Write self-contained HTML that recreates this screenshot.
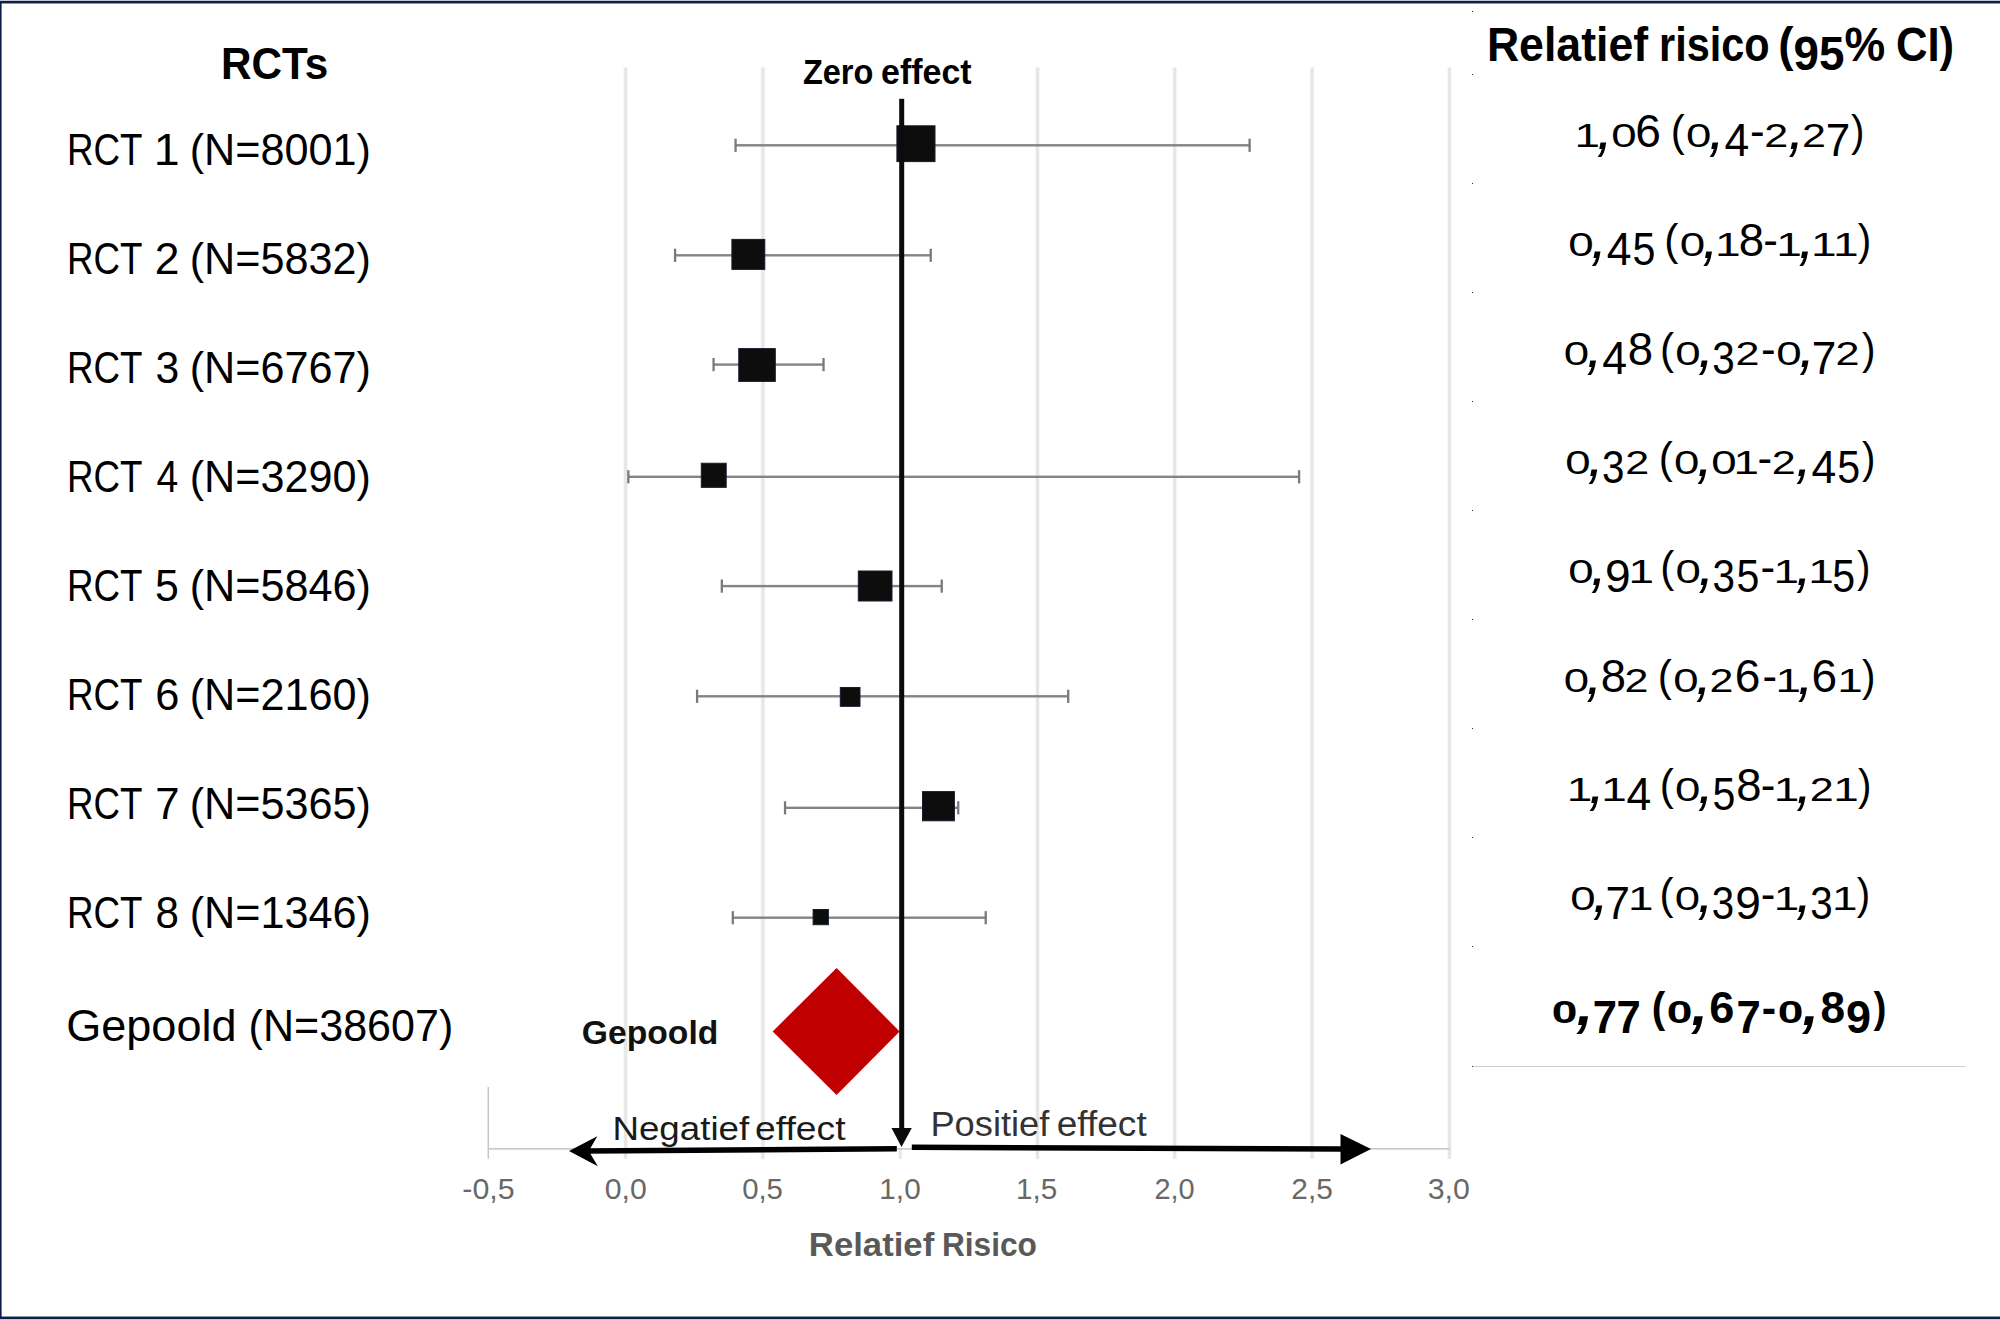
<!DOCTYPE html>
<html lang="nl"><head><meta charset="utf-8"><title>Forest plot</title>
<style>html,body{margin:0;padding:0;background:#fff}body{width:2000px;height:1320px;overflow:hidden;font-family:"Liberation Sans",sans-serif}svg{display:block;position:absolute;left:0;top:0}text{white-space:pre}</style></head>
<body>
<svg role="img" aria-label="Forest plot: relatief risico per RCT en gepoold" width="2000" height="1320" viewBox="0 0 2000 1320">
<g>
<rect x="623.10" y="67.5" width="5" height="1091.3" fill="#f9f9f9"/>
<rect x="624.10" y="67.5" width="3" height="1091.3" fill="#e6e6e6"/>
<rect x="760.40" y="67.5" width="5" height="1091.3" fill="#f9f9f9"/>
<rect x="761.40" y="67.5" width="3" height="1091.3" fill="#e6e6e6"/>
<rect x="898.70" y="1149" width="3" height="9.8" fill="#e6e6e6"/>
<rect x="1035.00" y="67.5" width="5" height="1091.3" fill="#f9f9f9"/>
<rect x="1036.00" y="67.5" width="3" height="1091.3" fill="#e6e6e6"/>
<rect x="1172.30" y="67.5" width="5" height="1091.3" fill="#f9f9f9"/>
<rect x="1173.30" y="67.5" width="3" height="1091.3" fill="#e6e6e6"/>
<rect x="1309.60" y="67.5" width="5" height="1091.3" fill="#f9f9f9"/>
<rect x="1310.60" y="67.5" width="3" height="1091.3" fill="#e6e6e6"/>
<rect x="1446.90" y="67.5" width="5" height="1091.3" fill="#f9f9f9"/>
<rect x="1447.90" y="67.5" width="3" height="1091.3" fill="#e6e6e6"/>
<rect x="487.55" y="1087" width="1.5" height="71.8" fill="#c6c6c6"/>
<rect x="488.30" y="1148.1" width="961.10" height="1.5" fill="#c6c6c6"/>
<rect x="735.56" y="144.10" width="514.06" height="2.4" fill="#848484"/>
<rect x="734.41" y="138.70" width="2.3" height="13.2" fill="#7a7a7a"/>
<rect x="1248.47" y="138.70" width="2.3" height="13.2" fill="#7a7a7a"/>
<rect x="675.08" y="254.10" width="255.66" height="2.4" fill="#848484"/>
<rect x="673.93" y="248.70" width="2.3" height="13.2" fill="#7a7a7a"/>
<rect x="929.59" y="248.70" width="2.3" height="13.2" fill="#7a7a7a"/>
<rect x="713.57" y="363.40" width="109.96" height="2.4" fill="#848484"/>
<rect x="712.42" y="358.00" width="2.3" height="13.2" fill="#7a7a7a"/>
<rect x="822.38" y="358.00" width="2.3" height="13.2" fill="#7a7a7a"/>
<rect x="628.35" y="475.60" width="670.76" height="2.4" fill="#848484"/>
<rect x="627.20" y="470.20" width="2.3" height="13.2" fill="#7a7a7a"/>
<rect x="1297.95" y="470.20" width="2.3" height="13.2" fill="#7a7a7a"/>
<rect x="721.82" y="584.90" width="219.92" height="2.4" fill="#848484"/>
<rect x="720.67" y="579.50" width="2.3" height="13.2" fill="#7a7a7a"/>
<rect x="940.58" y="579.50" width="2.3" height="13.2" fill="#7a7a7a"/>
<rect x="697.07" y="695.10" width="371.12" height="2.4" fill="#848484"/>
<rect x="695.92" y="689.70" width="2.3" height="13.2" fill="#7a7a7a"/>
<rect x="1067.04" y="689.70" width="2.3" height="13.2" fill="#7a7a7a"/>
<rect x="785.04" y="806.60" width="173.19" height="2.4" fill="#848484"/>
<rect x="783.89" y="801.20" width="2.3" height="13.2" fill="#7a7a7a"/>
<rect x="957.08" y="801.20" width="2.3" height="13.2" fill="#7a7a7a"/>
<rect x="732.81" y="916.50" width="252.91" height="2.4" fill="#848484"/>
<rect x="731.66" y="911.10" width="2.3" height="13.2" fill="#7a7a7a"/>
<rect x="984.57" y="911.10" width="2.3" height="13.2" fill="#7a7a7a"/>
<rect x="896.90" y="125.80" width="38.10" height="35.80" fill="#0d0d0d" stroke="#141c30" stroke-width="1"/>
<rect x="731.90" y="239.40" width="32.90" height="30.00" fill="#0d0d0d" stroke="#141c30" stroke-width="1"/>
<rect x="738.75" y="348.60" width="36.55" height="32.80" fill="#0d0d0d" stroke="#141c30" stroke-width="1"/>
<rect x="701.30" y="463.25" width="24.90" height="24.10" fill="#0d0d0d" stroke="#141c30" stroke-width="1"/>
<rect x="858.30" y="571.00" width="33.70" height="30.00" fill="#0d0d0d" stroke="#141c30" stroke-width="1"/>
<rect x="840.30" y="687.50" width="19.70" height="18.85" fill="#0d0d0d" stroke="#141c30" stroke-width="1"/>
<rect x="922.50" y="791.60" width="31.90" height="29.20" fill="#0d0d0d" stroke="#141c30" stroke-width="1"/>
<rect x="813.10" y="909.50" width="15.30" height="15.20" fill="#0d0d0d" stroke="#141c30" stroke-width="1"/>
</g>
<rect x="899.2" y="98.8" width="5.0" height="1032" fill="#0b0b0b"/>
<polygon points="891.5,1128 911.8,1128 901.5,1147" fill="#0b0b0b"/>
<polygon points="772.7,1031.4 836.6,968 899.6,1031.4 836.6,1095" fill="#c00000"/>
<polygon points="588.5,1148.35 896.8,1146.1 896.8,1151.6 588.5,1153.85" fill="#000"/>
<polygon points="569,1151 597.3,1136.2 588.8,1151 597.8,1166.3" fill="#000"/>
<polygon points="911.8,1144.6 1342,1146.2 1342,1151.7 911.8,1150.1" fill="#000"/>
<polygon points="1340.5,1134 1371,1148.9 1340.5,1164.4" fill="#000"/>
<rect x="1472" y="11" width="1" height="1" fill="#303030"/>
<rect x="1472" y="74" width="1" height="1" fill="#303030"/>
<rect x="1472" y="183" width="1" height="1" fill="#303030"/>
<rect x="1472" y="292" width="1" height="1" fill="#303030"/>
<rect x="1472" y="401" width="1" height="1" fill="#303030"/>
<rect x="1472" y="510" width="1" height="1" fill="#303030"/>
<rect x="1472" y="619" width="1" height="1" fill="#303030"/>
<rect x="1472" y="728" width="1" height="1" fill="#303030"/>
<rect x="1472" y="837" width="1" height="1" fill="#303030"/>
<rect x="1472" y="946" width="1" height="1" fill="#303030"/>
<rect x="1472" y="1066" width="1" height="1" fill="#303030"/>
<rect x="1473" y="1066" width="492.5" height="1" fill="#cdcdcd"/>
<rect x="0" y="0" width="2000" height="1" fill="#c2c6d1"/>
<rect x="0" y="1" width="2000" height="2.45" fill="#0c2148"/>
<rect x="0" y="1" width="1.6" height="1318" fill="#0c2148"/>
<rect x="0" y="1316.55" width="2000" height="2.45" fill="#0c2148"/>
<rect x="0" y="1319" width="2000" height="1" fill="#c2c6d1"/>
<text font-family="Liberation Sans, sans-serif" font-size="44.5" font-weight="700" fill="#000" transform="translate(221.03,78.60) scale(0.9499,1)">RCTs</text>
<text font-family="Liberation Sans, sans-serif" font-size="45.0" font-weight="400" fill="#000" transform="translate(66.96,165.00) scale(0.8161,1)">RCT</text>
<text font-family="Liberation Sans, sans-serif" font-size="45.0" font-weight="400" fill="#000" transform="translate(153.69,165.00) scale(1.0340,1)">1</text>
<text font-family="Liberation Sans, sans-serif" font-size="45.0" font-weight="400" fill="#000" transform="translate(189.72,165.00) scale(0.9594,1)">(N=8001)</text>
<text font-family="Liberation Sans, sans-serif" font-size="45.0" font-weight="400" fill="#000" transform="translate(66.96,274.00) scale(0.8161,1)">RCT</text>
<text font-family="Liberation Sans, sans-serif" font-size="45.0" font-weight="400" fill="#000" transform="translate(154.74,274.00) scale(0.9882,1)">2</text>
<text font-family="Liberation Sans, sans-serif" font-size="45.0" font-weight="400" fill="#000" transform="translate(189.72,274.00) scale(0.9594,1)">(N=5832)</text>
<text font-family="Liberation Sans, sans-serif" font-size="45.0" font-weight="400" fill="#000" transform="translate(66.96,383.00) scale(0.8161,1)">RCT</text>
<text font-family="Liberation Sans, sans-serif" font-size="45.0" font-weight="400" fill="#000" transform="translate(155.45,383.00) scale(0.9486,1)">3</text>
<text font-family="Liberation Sans, sans-serif" font-size="45.0" font-weight="400" fill="#000" transform="translate(189.72,383.00) scale(0.9594,1)">(N=6767)</text>
<text font-family="Liberation Sans, sans-serif" font-size="45.0" font-weight="400" fill="#000" transform="translate(66.96,492.00) scale(0.8161,1)">RCT</text>
<text font-family="Liberation Sans, sans-serif" font-size="45.0" font-weight="400" fill="#000" transform="translate(156.40,492.00) scale(0.8671,1)">4</text>
<text font-family="Liberation Sans, sans-serif" font-size="45.0" font-weight="400" fill="#000" transform="translate(189.72,492.00) scale(0.9594,1)">(N=3290)</text>
<text font-family="Liberation Sans, sans-serif" font-size="45.0" font-weight="400" fill="#000" transform="translate(66.96,601.00) scale(0.8161,1)">RCT</text>
<text font-family="Liberation Sans, sans-serif" font-size="45.0" font-weight="400" fill="#000" transform="translate(154.95,601.00) scale(0.9524,1)">5</text>
<text font-family="Liberation Sans, sans-serif" font-size="45.0" font-weight="400" fill="#000" transform="translate(189.72,601.00) scale(0.9594,1)">(N=5846)</text>
<text font-family="Liberation Sans, sans-serif" font-size="45.0" font-weight="400" fill="#000" transform="translate(66.96,710.00) scale(0.8161,1)">RCT</text>
<text font-family="Liberation Sans, sans-serif" font-size="45.0" font-weight="400" fill="#000" transform="translate(155.16,710.00) scale(0.9630,1)">6</text>
<text font-family="Liberation Sans, sans-serif" font-size="45.0" font-weight="400" fill="#000" transform="translate(189.72,710.00) scale(0.9594,1)">(N=2160)</text>
<text font-family="Liberation Sans, sans-serif" font-size="45.0" font-weight="400" fill="#000" transform="translate(66.96,819.00) scale(0.8161,1)">RCT</text>
<text font-family="Liberation Sans, sans-serif" font-size="45.0" font-weight="400" fill="#000" transform="translate(155.18,819.00) scale(0.9715,1)">7</text>
<text font-family="Liberation Sans, sans-serif" font-size="45.0" font-weight="400" fill="#000" transform="translate(189.72,819.00) scale(0.9594,1)">(N=5365)</text>
<text font-family="Liberation Sans, sans-serif" font-size="45.0" font-weight="400" fill="#000" transform="translate(66.96,928.00) scale(0.8161,1)">RCT</text>
<text font-family="Liberation Sans, sans-serif" font-size="45.0" font-weight="400" fill="#000" transform="translate(155.43,928.00) scale(0.9351,1)">8</text>
<text font-family="Liberation Sans, sans-serif" font-size="45.0" font-weight="400" fill="#000" transform="translate(189.72,928.00) scale(0.9594,1)">(N=1346)</text>
<text font-family="Liberation Sans, sans-serif" font-size="45.0" font-weight="400" fill="#000" transform="translate(66.15,1041.10) scale(1.0022,1)">Gepoold</text>
<text font-family="Liberation Sans, sans-serif" font-size="45.0" font-weight="400" fill="#000" transform="translate(248.62,1041.10) scale(0.9571,1)">(N=38607)</text>
<text font-family="Liberation Sans, sans-serif" font-size="34.5" font-weight="700" fill="#000" transform="translate(802.88,83.75) scale(0.9418,1)">Zero</text>
<text font-family="Liberation Sans, sans-serif" font-size="34.5" font-weight="700" fill="#000" transform="translate(881.10,83.75) scale(0.9832,1)">effect</text>
<text font-family="Liberation Sans, sans-serif" font-size="33.5" font-weight="700" fill="#111" transform="translate(581.81,1044.00) scale(1.0048,1)">Gepoold</text>
<text font-family="Liberation Sans, sans-serif" font-size="33.75" font-weight="400" fill="#1a1a1a" transform="translate(612.41,1140.00) scale(1.0889,1)">Negatief</text>
<text font-family="Liberation Sans, sans-serif" font-size="33.75" font-weight="400" fill="#1a1a1a" transform="translate(755.06,1140.00) scale(1.1054,1)">effect</text>
<text font-family="Liberation Sans, sans-serif" font-size="34.25" font-weight="400" fill="#333" transform="translate(930.43,1135.80) scale(1.0592,1)">Positief</text>
<text font-family="Liberation Sans, sans-serif" font-size="34.25" font-weight="400" fill="#333" transform="translate(1056.67,1135.80) scale(1.0830,1)">effect</text>
<text font-family="Liberation Sans, sans-serif" font-size="28.75" font-weight="400" fill="#686868" transform="translate(462.34,1198.70) scale(1.0566,1)">-0,5</text>
<text font-family="Liberation Sans, sans-serif" font-size="28.75" font-weight="400" fill="#686868" transform="translate(604.78,1198.70) scale(1.0519,1)">0,0</text>
<text font-family="Liberation Sans, sans-serif" font-size="28.75" font-weight="400" fill="#686868" transform="translate(742.13,1198.70) scale(1.0214,1)">0,5</text>
<text font-family="Liberation Sans, sans-serif" font-size="28.75" font-weight="400" fill="#686868" transform="translate(879.34,1198.70) scale(1.0340,1)">1,0</text>
<text font-family="Liberation Sans, sans-serif" font-size="28.75" font-weight="400" fill="#686868" transform="translate(1016.01,1198.70) scale(1.0316,1)">1,5</text>
<text font-family="Liberation Sans, sans-serif" font-size="28.75" font-weight="400" fill="#686868" transform="translate(1154.44,1198.70) scale(1.0079,1)">2,0</text>
<text font-family="Liberation Sans, sans-serif" font-size="28.75" font-weight="400" fill="#686868" transform="translate(1291.34,1198.70) scale(1.0392,1)">2,5</text>
<text font-family="Liberation Sans, sans-serif" font-size="28.75" font-weight="400" fill="#686868" transform="translate(1427.71,1198.70) scale(1.0556,1)">3,0</text>
<text font-family="Liberation Sans, sans-serif" font-size="33.25" font-weight="700" fill="#595959" transform="translate(808.86,1255.60) scale(1.0440,1)">Relatief</text>
<text font-family="Liberation Sans, sans-serif" font-size="33.25" font-weight="700" fill="#595959" transform="translate(941.89,1255.60) scale(0.9519,1)">Risico</text>
<text font-family="Liberation Sans, sans-serif" font-size="48.0" font-weight="700" fill="#000" transform="translate(1486.90,60.50) scale(0.9297,1)">Relatief</text>
<text font-family="Liberation Sans, sans-serif" font-size="48.0" font-weight="700" fill="#000" transform="translate(1659.06,60.50) scale(0.8637,1)">risico</text>
<text font-family="Liberation Sans, sans-serif" font-size="48.0" font-weight="700" fill="#000" transform="translate(1778.18,60.50) scale(0.9541,1)"><tspan y="0">(</tspan><tspan y="9.57">9</tspan><tspan y="9.57">5</tspan><tspan y="0">%</tspan></text>
<text font-family="Liberation Sans, sans-serif" font-size="48.0" font-weight="700" fill="#000" transform="translate(1895.92,60.50) scale(0.9102,1)">CI)</text>
<g transform="translate(1578.00,147.00)" font-family="Liberation Sans, sans-serif" font-weight="400" fill="#000"><text transform="translate(-3.50,0.00) scale(1.413,1)" font-size="32.52">1</text><text transform="translate(18.38,2.30) scale(1.000,1)" font-size="60.28" font-style="italic">,</text><text transform="translate(33.24,0.00) scale(1.403,1)" font-size="32.52">0</text><text transform="translate(57.16,0.00) scale(1.011,1)" font-size="45.67">6</text><text transform="translate(92.66,-1.10) scale(0.966,1)" font-size="43.75">(</text><text transform="translate(108.03,0.00) scale(1.403,1)" font-size="32.52">0</text><text transform="translate(130.42,2.30) scale(1.000,1)" font-size="60.28" font-style="italic">,</text><text transform="translate(146.44,9.42) scale(0.948,1)" font-size="46.93">4</text><text transform="translate(171.88,0.00) scale(0.960,1)" font-size="45.67">-</text><text transform="translate(186.29,0.00) scale(1.324,1)" font-size="32.52">2</text><text transform="translate(209.93,2.30) scale(1.000,1)" font-size="60.28" font-style="italic">,</text><text transform="translate(224.00,0.00) scale(1.324,1)" font-size="32.52">2</text><text transform="translate(247.85,9.42) scale(0.938,1)" font-size="46.93">7</text><text transform="translate(273.06,-1.10) scale(0.923,1)" font-size="43.75">)</text></g>
<g transform="translate(1570.00,255.96)" font-family="Liberation Sans, sans-serif" font-weight="400" fill="#000"><text transform="translate(-1.79,0.00) scale(1.407,1)" font-size="32.52">0</text><text transform="translate(20.68,2.30) scale(1.000,1)" font-size="60.28" font-style="italic">,</text><text transform="translate(36.72,9.42) scale(0.950,1)" font-size="46.93">4</text><text transform="translate(62.53,9.42) scale(0.879,1)" font-size="46.93">5</text><text transform="translate(94.32,-1.10) scale(0.969,1)" font-size="43.75">(</text><text transform="translate(109.73,0.00) scale(1.407,1)" font-size="32.52">0</text><text transform="translate(132.19,2.30) scale(1.000,1)" font-size="60.28" font-style="italic">,</text><text transform="translate(144.95,0.00) scale(1.417,1)" font-size="32.52">1</text><text transform="translate(168.80,0.00) scale(0.997,1)" font-size="45.67">8</text><text transform="translate(193.25,0.00) scale(0.963,1)" font-size="45.67">-</text><text transform="translate(206.37,0.00) scale(1.417,1)" font-size="32.52">1</text><text transform="translate(228.32,2.30) scale(1.000,1)" font-size="60.28" font-style="italic">,</text><text transform="translate(241.08,0.00) scale(1.417,1)" font-size="32.52">1</text><text transform="translate(262.99,0.00) scale(1.417,1)" font-size="32.52">1</text><text transform="translate(287.78,-1.10) scale(0.925,1)" font-size="43.75">)</text></g>
<g transform="translate(1565.50,364.92)" font-family="Liberation Sans, sans-serif" font-weight="400" fill="#000"><text transform="translate(-1.79,0.00) scale(1.406,1)" font-size="32.52">0</text><text transform="translate(20.66,2.30) scale(1.000,1)" font-size="60.28" font-style="italic">,</text><text transform="translate(36.70,9.42) scale(0.950,1)" font-size="46.93">4</text><text transform="translate(62.16,0.00) scale(0.997,1)" font-size="45.67">8</text><text transform="translate(94.38,-1.10) scale(0.968,1)" font-size="43.75">(</text><text transform="translate(109.78,0.00) scale(1.406,1)" font-size="32.52">0</text><text transform="translate(132.23,2.30) scale(1.000,1)" font-size="60.28" font-style="italic">,</text><text transform="translate(146.75,9.42) scale(0.861,1)" font-size="46.93">3</text><text transform="translate(170.02,0.00) scale(1.327,1)" font-size="32.52">2</text><text transform="translate(195.62,0.00) scale(0.962,1)" font-size="45.67">-</text><text transform="translate(210.85,0.00) scale(1.406,1)" font-size="32.52">0</text><text transform="translate(233.29,2.30) scale(1.000,1)" font-size="60.28" font-style="italic">,</text><text transform="translate(246.29,9.42) scale(0.940,1)" font-size="46.93">7</text><text transform="translate(270.02,0.00) scale(1.327,1)" font-size="32.52">2</text><text transform="translate(296.53,-1.10) scale(0.925,1)" font-size="43.75">)</text></g>
<g transform="translate(1567.00,473.88)" font-family="Liberation Sans, sans-serif" font-weight="400" fill="#000"><text transform="translate(-1.78,0.00) scale(1.403,1)" font-size="32.52">0</text><text transform="translate(20.60,2.30) scale(1.000,1)" font-size="60.28" font-style="italic">,</text><text transform="translate(35.11,9.42) scale(0.859,1)" font-size="46.93">3</text><text transform="translate(58.33,0.00) scale(1.324,1)" font-size="32.52">2</text><text transform="translate(91.64,-1.10) scale(0.966,1)" font-size="43.75">(</text><text transform="translate(107.01,0.00) scale(1.403,1)" font-size="32.52">0</text><text transform="translate(129.39,2.30) scale(1.000,1)" font-size="60.28" font-style="italic">,</text><text transform="translate(144.25,0.00) scale(1.403,1)" font-size="32.52">0</text><text transform="translate(166.60,0.00) scale(1.413,1)" font-size="32.52">1</text><text transform="translate(190.41,0.00) scale(0.960,1)" font-size="45.67">-</text><text transform="translate(204.82,0.00) scale(1.324,1)" font-size="32.52">2</text><text transform="translate(228.45,2.30) scale(1.000,1)" font-size="60.28" font-style="italic">,</text><text transform="translate(244.47,9.42) scale(0.948,1)" font-size="46.93">4</text><text transform="translate(270.20,9.42) scale(0.877,1)" font-size="46.93">5</text><text transform="translate(295.06,-1.10) scale(0.923,1)" font-size="43.75">)</text></g>
<g transform="translate(1570.00,582.84)" font-family="Liberation Sans, sans-serif" font-weight="400" fill="#000"><text transform="translate(-1.78,0.00) scale(1.403,1)" font-size="32.52">0</text><text transform="translate(20.59,2.30) scale(1.000,1)" font-size="60.28" font-style="italic">,</text><text transform="translate(35.06,9.42) scale(0.983,1)" font-size="46.93">9</text><text transform="translate(58.61,0.00) scale(1.412,1)" font-size="32.52">1</text><text transform="translate(90.16,-1.10) scale(0.966,1)" font-size="43.75">(</text><text transform="translate(105.52,0.00) scale(1.403,1)" font-size="32.52">0</text><text transform="translate(127.89,2.30) scale(1.000,1)" font-size="60.28" font-style="italic">,</text><text transform="translate(142.39,9.42) scale(0.859,1)" font-size="46.93">3</text><text transform="translate(166.52,9.42) scale(0.877,1)" font-size="46.93">5</text><text transform="translate(190.45,0.00) scale(0.960,1)" font-size="45.67">-</text><text transform="translate(203.52,0.00) scale(1.412,1)" font-size="32.52">1</text><text transform="translate(225.39,2.30) scale(1.000,1)" font-size="60.28" font-style="italic">,</text><text transform="translate(238.13,0.00) scale(1.412,1)" font-size="32.52">1</text><text transform="translate(262.22,9.42) scale(0.877,1)" font-size="46.93">5</text><text transform="translate(287.06,-1.10) scale(0.922,1)" font-size="43.75">)</text></g>
<g transform="translate(1565.50,691.80)" font-family="Liberation Sans, sans-serif" font-weight="400" fill="#000"><text transform="translate(-1.78,0.00) scale(1.402,1)" font-size="32.52">0</text><text transform="translate(20.58,2.30) scale(1.000,1)" font-size="60.28" font-style="italic">,</text><text transform="translate(35.24,0.00) scale(0.994,1)" font-size="45.67">8</text><text transform="translate(58.99,0.00) scale(1.323,1)" font-size="32.52">2</text><text transform="translate(92.28,-1.10) scale(0.965,1)" font-size="43.75">(</text><text transform="translate(107.63,0.00) scale(1.402,1)" font-size="32.52">0</text><text transform="translate(129.99,2.30) scale(1.000,1)" font-size="60.28" font-style="italic">,</text><text transform="translate(144.06,0.00) scale(1.323,1)" font-size="32.52">2</text><text transform="translate(169.19,0.00) scale(1.010,1)" font-size="45.67">6</text><text transform="translate(196.90,0.00) scale(0.959,1)" font-size="45.67">-</text><text transform="translate(209.97,0.00) scale(1.412,1)" font-size="32.52">1</text><text transform="translate(231.82,2.30) scale(1.000,1)" font-size="60.28" font-style="italic">,</text><text transform="translate(246.11,0.00) scale(1.010,1)" font-size="45.67">6</text><text transform="translate(271.87,0.00) scale(1.412,1)" font-size="32.52">1</text><text transform="translate(296.57,-1.10) scale(0.922,1)" font-size="43.75">)</text></g>
<g transform="translate(1570.20,800.76)" font-family="Liberation Sans, sans-serif" font-weight="400" fill="#000"><text transform="translate(-3.50,0.00) scale(1.413,1)" font-size="32.52">1</text><text transform="translate(18.38,2.30) scale(1.000,1)" font-size="60.28" font-style="italic">,</text><text transform="translate(31.12,0.00) scale(1.413,1)" font-size="32.52">1</text><text transform="translate(56.25,9.42) scale(0.948,1)" font-size="46.93">4</text><text transform="translate(89.45,-1.10) scale(0.966,1)" font-size="43.75">(</text><text transform="translate(104.82,0.00) scale(1.403,1)" font-size="32.52">0</text><text transform="translate(127.21,2.30) scale(1.000,1)" font-size="60.28" font-style="italic">,</text><text transform="translate(142.20,9.42) scale(0.877,1)" font-size="46.93">5</text><text transform="translate(166.12,0.00) scale(0.995,1)" font-size="45.67">8</text><text transform="translate(190.51,0.00) scale(0.960,1)" font-size="45.67">-</text><text transform="translate(203.58,0.00) scale(1.413,1)" font-size="32.52">1</text><text transform="translate(225.47,2.30) scale(1.000,1)" font-size="60.28" font-style="italic">,</text><text transform="translate(239.54,0.00) scale(1.324,1)" font-size="32.52">2</text><text transform="translate(263.14,0.00) scale(1.413,1)" font-size="32.52">1</text><text transform="translate(287.86,-1.10) scale(0.923,1)" font-size="43.75">)</text></g>
<g transform="translate(1572.00,909.72)" font-family="Liberation Sans, sans-serif" font-weight="400" fill="#000"><text transform="translate(-1.78,0.00) scale(1.402,1)" font-size="32.52">0</text><text transform="translate(20.58,2.30) scale(1.000,1)" font-size="60.28" font-style="italic">,</text><text transform="translate(33.56,9.42) scale(0.937,1)" font-size="46.93">7</text><text transform="translate(55.89,0.00) scale(1.412,1)" font-size="32.52">1</text><text transform="translate(87.43,-1.10) scale(0.965,1)" font-size="43.75">(</text><text transform="translate(102.79,0.00) scale(1.402,1)" font-size="32.52">0</text><text transform="translate(125.16,2.30) scale(1.000,1)" font-size="60.28" font-style="italic">,</text><text transform="translate(139.66,9.42) scale(0.858,1)" font-size="46.93">3</text><text transform="translate(163.27,9.42) scale(0.983,1)" font-size="46.93">9</text><text transform="translate(188.76,0.00) scale(0.960,1)" font-size="45.67">-</text><text transform="translate(201.83,0.00) scale(1.412,1)" font-size="32.52">1</text><text transform="translate(223.69,2.30) scale(1.000,1)" font-size="60.28" font-style="italic">,</text><text transform="translate(238.19,9.42) scale(0.858,1)" font-size="46.93">3</text><text transform="translate(260.06,0.00) scale(1.412,1)" font-size="32.52">1</text><text transform="translate(284.76,-1.10) scale(0.922,1)" font-size="43.75">)</text></g>
<g transform="translate(1553.50,1023.10)" font-family="Liberation Sans, sans-serif" font-weight="700" fill="#000"><text transform="translate(-1.64,0.00) scale(1.450,1)" font-size="31.84">0</text><text transform="translate(23.14,2.30) scale(1.000,1)" font-size="58.99" font-style="italic">,</text><text transform="translate(39.19,9.90) scale(0.950,1)" font-size="45.95">7</text><text transform="translate(63.00,9.90) scale(0.950,1)" font-size="45.95">7</text><text transform="translate(98.34,-1.10) scale(0.949,1)" font-size="42.82">(</text><text transform="translate(113.27,0.00) scale(1.450,1)" font-size="31.84">0</text><text transform="translate(138.06,2.30) scale(1.000,1)" font-size="58.99" font-style="italic">,</text><text transform="translate(155.76,0.00) scale(1.010,1)" font-size="44.69">6</text><text transform="translate(182.93,9.90) scale(0.950,1)" font-size="45.95">7</text><text transform="translate(208.36,0.00) scale(0.966,1)" font-size="44.69">-</text><text transform="translate(224.26,0.00) scale(1.450,1)" font-size="31.84">0</text><text transform="translate(249.04,2.30) scale(1.000,1)" font-size="58.99" font-style="italic">,</text><text transform="translate(267.00,0.00) scale(0.989,1)" font-size="44.69">8</text><text transform="translate(292.53,9.90) scale(0.980,1)" font-size="45.95">9</text><text transform="translate(319.90,-1.10) scale(0.907,1)" font-size="42.82">)</text></g>
</svg>
</body></html>
